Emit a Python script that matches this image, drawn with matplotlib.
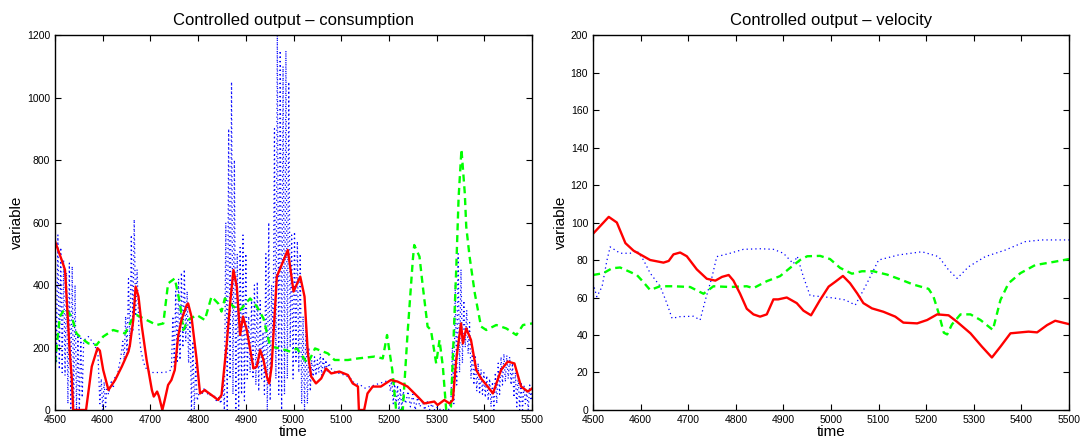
import matplotlib.pyplot as plt

plt.rcParams['font.family'] = ['Liberation Sans', 'DejaVu Sans']

# --- consumption (left) ---
red_c_t = [4500, 4514, 4521, 4531, 4535, 4538, 4565, 4577, 4589, 4594, 4601, 4612, 4626, 4640,
           4654, 4657, 4664, 4669, 4675, 4682, 4692, 4703, 4707, 4714, 4718, 4725, 4730, 4737,
           4744, 4751, 4758, 4765, 4776, 4779, 4786, 4797, 4804, 4814, 4818, 4828, 4842, 4849,
           4860, 4867, 4874, 4881, 4888, 4894, 4902, 4916, 4923, 4930, 4937, 4944, 4949, 4954,
           4965, 4988, 5000, 5014, 5023, 5030, 5037, 5047, 5058, 5068, 5079, 5096, 5114, 5124,
           5135, 5137, 5148, 5155, 5166, 5183, 5204, 5218, 5239, 5260, 5274, 5295, 5302, 5316,
           5327, 5334, 5341, 5351, 5355, 5362, 5372, 5383, 5393, 5407, 5418, 5435, 5449, 5463,
           5477, 5491, 5500]
red_c_v = [540, 480, 448, 182, 105, 0, 0, 139, 198, 190, 128, 64, 96, 139,
           187, 208, 288, 395, 363, 267, 160, 64, 43, 59, 43, 0, 32, 80,
           96, 128, 235, 288, 336, 341, 299, 160, 53, 64, 59, 48, 32, 48,
           213, 341, 448, 395, 240, 299, 256, 133, 139, 192, 160, 107, 85, 139,
           427, 512, 379, 427, 363, 181, 107, 85, 101, 133, 117, 123, 112, 85,
           75, 0, 0, 53, 75, 75, 96, 91, 75, 43, 21, 27, 16, 32,
           21, 32, 160, 277, 213, 261, 224, 128, 101, 75, 53, 128, 155, 149,
           75, 59, 69]

green_c_t = [4500, 4510, 4521, 4535, 4545, 4556, 4570, 4587, 4601, 4622, 4647, 4661, 4671, 4692,
             4713, 4727, 4737, 4751, 4762, 4769, 4779, 4797, 4814, 4828, 4842, 4849, 4856, 4874,
             4888, 4909, 4923, 4937, 4951, 4972, 4993, 5007, 5024, 5030, 5045, 5072, 5086, 5114,
             5135, 5170, 5187, 5196, 5207, 5215, 5229, 5239, 5250, 5253, 5264, 5271, 5281, 5288,
             5299, 5306, 5313, 5320, 5330, 5337, 5341, 5346, 5352, 5359, 5362, 5369, 5380, 5393,
             5404, 5425, 5446, 5467, 5481, 5500]
green_c_v = [149, 299, 325, 299, 245, 229, 213, 208, 235, 256, 245, 288, 304, 288,
             272, 277, 405, 421, 341, 256, 288, 304, 288, 363, 341, 315, 357, 331,
             320, 357, 331, 293, 203, 197, 187, 197, 160, 149, 197, 181, 160, 160,
             165, 171, 165, 240, 128, 0, 0, 245, 480, 528, 491, 395, 267, 256,
             149, 224, 139, 0, 11, 290, 450, 680, 834, 693, 587, 491, 373, 267,
             256, 272, 261, 240, 272, 277]

blue_c_t = [4500, 4503, 4506, 4509, 4512, 4515, 4518, 4521, 4524, 4527, 4530, 4533, 4536, 4539,
            4542, 4545, 4548, 4551, 4554, 4557, 4560, 4565, 4570, 4575, 4580, 4585, 4590, 4594,
            4597, 4600, 4603, 4606, 4609, 4612, 4618, 4622, 4626, 4630, 4634, 4638, 4642, 4645,
            4648, 4651, 4654, 4657, 4660, 4663, 4666, 4669, 4672, 4676, 4680, 4686, 4692, 4700,
            4710, 4720, 4730, 4740, 4744, 4747, 4750, 4753, 4756, 4759, 4762, 4765, 4768, 4771,
            4774, 4777, 4780, 4783, 4786, 4789, 4792, 4795, 4798, 4803, 4808, 4813, 4818, 4823,
            4828, 4833, 4838, 4843, 4848, 4852, 4855, 4858, 4861, 4864, 4867, 4870, 4873, 4876,
            4879, 4882, 4885, 4888, 4891, 4894, 4897, 4900, 4903, 4906, 4909, 4912, 4915, 4918,
            4921, 4924, 4927, 4930, 4933, 4936, 4939, 4942, 4945, 4948, 4951, 4954, 4957, 4960,
            4963, 4966, 4969, 4972, 4975, 4978, 4981, 4984, 4987, 4990, 4993, 4996, 4999, 5002,
            5005, 5008, 5011, 5014, 5017, 5020, 5023, 5026, 5029, 5032, 5035, 5038, 5041, 5044,
            5047, 5050, 5053, 5056, 5059, 5062, 5065, 5068, 5071, 5074, 5080, 5090, 5100, 5110,
            5120, 5125, 5130, 5140, 5150, 5160, 5170, 5180, 5190, 5200, 5203, 5206, 5209, 5212,
            5215, 5218, 5221, 5224, 5227, 5230, 5235, 5240, 5245, 5250, 5255, 5260, 5265, 5270,
            5275, 5280, 5285, 5290, 5295, 5300, 5305, 5310, 5315, 5320, 5325, 5330, 5333, 5336,
            5339, 5342, 5345, 5348, 5351, 5354, 5357, 5360, 5363, 5366, 5369, 5372, 5375, 5378,
            5381, 5384, 5387, 5390, 5393, 5396, 5399, 5402, 5405, 5408, 5411, 5414, 5417, 5420,
            5423, 5426, 5429, 5432, 5435, 5438, 5441, 5444, 5447, 5450, 5453, 5456, 5459, 5462,
            5465, 5468, 5471, 5474, 5477, 5480, 5483, 5486, 5489, 5492, 5495, 5498, 5500]
blue_c_v = [580, 150, 560, 130, 520, 120, 480, 110, 440, 20, 470, 0, 460, 0,
            400, 0, 240, 0, 230, 40, 220, 230, 235, 225, 215, 200, 180, 20,
            100, 0, 90, 10, 80, 50, 90, 70, 110, 100, 140, 170, 220, 160,
            300, 180, 420, 200, 560, 250, 610, 300, 450, 250, 190, 150, 130, 120,
            120, 120, 120, 125, 130, 300, 140, 380, 150, 420, 160, 440, 200, 450,
            220, 380, 150, 300, 0, 220, 0, 150, 30, 60, 50, 70, 50, 55,
            40, 50, 30, 40, 20, 100, 0, 600, 0, 900, 100, 1050, 50, 800,
            0, 500, 0, 520, 50, 560, 30, 500, 100, 300, 120, 350, 100, 400,
            80, 410, 60, 350, 100, 250, 50, 500, 0, 600, 30, 400, 200, 900,
            100, 1200, 50, 1150, 0, 1100, 50, 1150, 100, 1050, 200, 560, 100, 570,
            150, 540, 120, 500, 20, 300, 0, 280, 20, 200, 60, 160, 100, 170,
            110, 160, 120, 180, 110, 170, 130, 160, 120, 150, 130, 120, 115, 110,
            100, 90, 85, 80, 70, 75, 80, 85, 90, 95, 60, 100, 20, 90,
            10, 80, 0, 70, 0, 60, 20, 60, 10, 50, 0, 40, 10, 30,
            0, 30, 0, 20, 0, 10, 0, 5, 0, 10, 0, 30, 200, 20,
            400, 80, 500, 120, 450, 150, 350, 200, 320, 180, 280, 100, 200, 80,
            170, 60, 150, 50, 130, 50, 120, 40, 110, 30, 100, 10, 90, 0,
            120, 20, 150, 50, 170, 80, 180, 90, 175, 100, 170, 80, 150, 40,
            120, 10, 110, 0, 90, 0, 80, 20, 60, 0, 80, 30, 70]

# --- velocity (right) ---
red_v_t = [4500, 4533, 4550, 4568, 4585, 4606, 4620, 4648, 4659, 4669, 4683, 4697, 4718, 4739,
           4757, 4771, 4785, 4795, 4809, 4823, 4837, 4851, 4865, 4879, 4889, 4907, 4928, 4942,
           4958, 4977, 4995, 5009, 5025, 5040, 5055, 5068, 5086, 5110, 5135, 5152, 5181, 5202,
           5223, 5247, 5265, 5293, 5317, 5338, 5356, 5377, 5398, 5415, 5433, 5454, 5471, 5500]
red_v_v = [94, 103, 100, 89, 85, 82, 80, 78.6, 79.5, 83, 84, 82, 75, 70,
           69, 71, 72, 69, 62, 54, 51, 49.8, 51, 59, 59, 60, 57, 53,
           50.5, 58.7, 65.8, 68.4, 71.5, 67.6, 62.2, 57, 54.2, 52.4, 49.8, 46.6, 46.2, 48,
           51, 50.5, 47, 40.9, 33.8, 28, 33.8, 40.9, 41.4, 41.8, 41.4, 45.3, 47.6, 45.8]

green_v_t = [4500, 4522, 4540, 4557, 4592, 4603, 4620, 4641, 4669, 4704, 4732, 4753, 4788, 4823,
             4837, 4865, 4893, 4914, 4935, 4950, 4977, 4998, 5019, 5044, 5065, 5089, 5118, 5146,
             5173, 5205, 5215, 5226, 5237, 5244, 5254, 5272, 5293, 5314, 5340, 5356, 5373, 5398,
             5429, 5468, 5500]
green_v_v = [72, 73, 75.6, 76, 72, 69, 64, 66, 66, 65.6, 62, 66, 65.6, 66,
             65, 68.7, 71.4, 75.8, 80, 82, 82.2, 80.5, 75.8, 72.7, 74, 74, 72.2, 69.6,
             66.9, 64.6, 60.7, 51.8, 41.2, 40.3, 45.6, 51, 51, 48, 42.7, 58.7, 67.6, 73,
             77.3, 79, 80.5]

blue_v_t = [4500, 4508, 4519, 4529, 4536, 4557, 4578, 4592, 4606, 4620, 4641, 4655, 4666, 4683,
            4711, 4725, 4736, 4750, 4760, 4788, 4816, 4851, 4879, 4900, 4921, 4929, 4942, 4956,
            4984, 5009, 5030, 5051, 5072, 5100, 5142, 5191, 5226, 5247, 5265, 5289, 5324, 5366,
            5408, 5443, 5500]
blue_v_v = [67.6, 60.4, 65.8, 79.6, 87, 83.6, 83.6, 85, 80, 73, 66, 57, 48.9, 49.8,
            50, 48, 58.7, 71, 81.8, 83.6, 85.7, 86, 85.7, 83.6, 78, 82, 71, 61,
            60.4, 59.6, 58.7, 56, 65.8, 80, 82.7, 84.4, 81.8, 74.7, 70.2, 76.4, 81.8, 85.3,
            89.8, 90.7, 90.7]

fig = plt.figure(figsize=(10.81, 4.41), dpi=100)
ax1 = fig.add_axes([0.0509, 0.0703, 0.4413, 0.8503])
ax2 = fig.add_axes([0.5486, 0.0703, 0.4403, 0.8503])

for ax, blue, green, red in [
        (ax1, (blue_c_t, blue_c_v), (green_c_t, green_c_v), (red_c_t, red_c_v)),
        (ax2, (blue_v_t, blue_v_v), (green_v_t, green_v_v), (red_v_t, red_v_v))]:
    ax.plot(*blue, color='#0000ff', linestyle=(0, (1, 2.5)), linewidth=0.9)
    ax.plot(*green, color='#00ff00', linestyle=(0, (3, 2)), linewidth=1.7)
    ax.plot(*red, color='#ff0000', linestyle='-', linewidth=1.7)
    ax.set_xlim(4500, 5500)
    ax.set_xticks(range(4500, 5501, 100))
    ax.tick_params(direction='in', top=True, right=True, labelsize=7.5, length=4, width=0.8)
    ax.set_xlabel('time', fontsize=11, labelpad=0)
    ax.set_ylabel('variable', fontsize=11, labelpad=2)
    for s in ax.spines.values():
        s.set_linewidth(1.0)

ax1.set_ylim(0, 1200)
ax1.set_yticks(range(0, 1201, 200))
ax1.set_title('Controlled output \u2013 consumption', fontsize=12, pad=7)

ax2.set_ylim(0, 200)
ax2.set_yticks(range(0, 201, 20))
ax2.set_title('Controlled output \u2013 velocity', fontsize=12, pad=7)

fig.savefig('out.png', dpi=100)
